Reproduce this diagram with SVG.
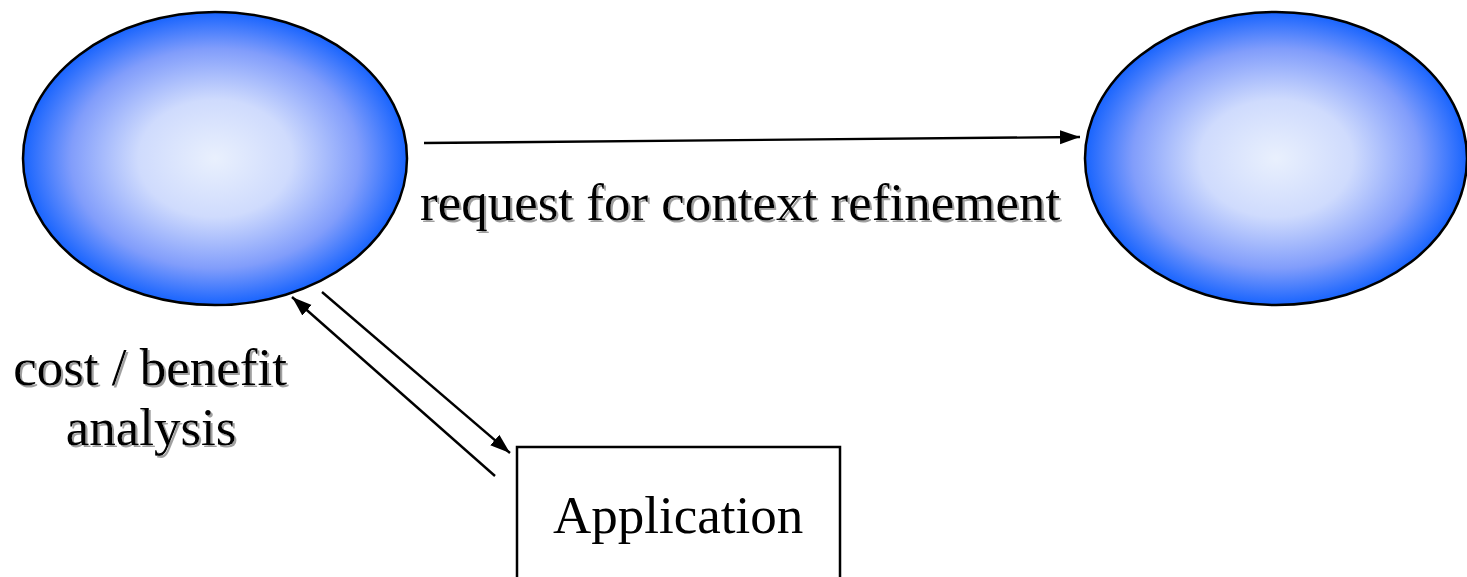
<svg xmlns="http://www.w3.org/2000/svg" width="1467" height="577" viewBox="0 0 1467 577">
<defs>
<radialGradient id="blob" cx="50%" cy="50%" r="50%">
<stop offset="0" stop-color="#e9f0fd"/>
<stop offset="0.4" stop-color="#cfdbfd"/>
<stop offset="0.75" stop-color="#819dfb"/>
<stop offset="1" stop-color="#1864fe"/>
</radialGradient>
<filter id="shadow" x="-5%" y="-20%" width="110%" height="140%">
<feOffset in="SourceAlpha" dx="2" dy="2" result="o"/>
<feFlood flood-color="#a0a0a0"/>
<feComposite in2="o" operator="in" result="s"/>
<feMerge><feMergeNode in="s"/><feMergeNode in="SourceGraphic"/></feMerge>
</filter>
<marker id="ah" markerWidth="20" markerHeight="16" refX="20" refY="8" orient="auto" markerUnits="userSpaceOnUse">
<path d="M0,1 L20,8 L0,15 z" fill="#000"/>
</marker>
</defs>
<style>
.node{fill:url(#blob);stroke:#000;stroke-width:2.5}
.lbl{font-family:"Liberation Serif","Times New Roman",serif;font-size:53px;fill:#000}
.conn{stroke:#000;stroke-width:2.4;fill:none;marker-end:url(#ah)}
</style>
<rect width="1467" height="577" fill="#fff"/>
<g id="node-left"><ellipse class="node" cx="215" cy="158.5" rx="192" ry="146.5"/></g>
<g id="node-right"><ellipse class="node" cx="1276" cy="158.5" rx="191" ry="146.5"/></g>
<g id="node-application">
<rect x="517" y="447" width="323" height="140" fill="#fff" stroke="#000" stroke-width="2.5"/>
<text class="lbl" x="553" y="533">Application</text>
</g>
<g id="connectors">
<line class="conn" x1="424" y1="143" x2="1080" y2="137"/>
<line class="conn" x1="322" y1="292" x2="510" y2="453"/>
<line class="conn" x1="495" y1="476" x2="292" y2="297"/>
</g>
<g id="labels" filter="url(#shadow)">
<text class="lbl" x="420" y="220">request for context refinement</text>
<text class="lbl" x="150" y="385" text-anchor="middle">cost / benefit</text>
<text class="lbl" x="151" y="445" text-anchor="middle">analysis</text>
</g>
</svg>
